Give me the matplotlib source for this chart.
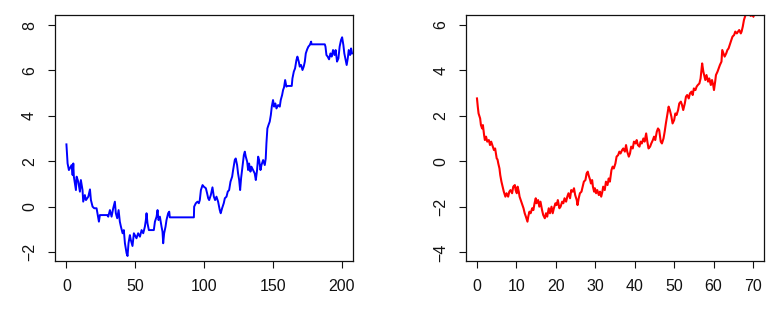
import numpy as np
import matplotlib.pyplot as plt

plt.rcParams['font.family'] = ['Liberation Sans', 'DejaVu Sans']

# left panel: path (time, value)
blue_t = [0, 0.85, 1.8, 3.75, 4.5, 5.0, 5.4, 6.9, 7.4, 8.6, 9.8, 10.5, 11.7, 12.2, 13.4, 14.2,
          15.9, 17.1, 17.8, 19.0, 20.2, 21.9, 23.6, 24.3, 29.6, 30.4, 31.6, 32.8, 34.0, 35.2,
          35.9, 36.9, 37.9, 38.8, 39.6, 40.8, 41.7, 42.5, 43.7, 44.4, 45.1, 46.1, 46.8, 48.0,
          49.0, 50.9, 52.1, 53.4, 54.6, 55.8, 57.0, 57.7, 58.2, 58.9, 59.9, 63.5, 64.3, 65.5,
          66.2, 66.9, 67.9, 69.1, 69.8, 70.3, 71.0, 72.0, 72.7, 73.9, 74.7, 75.1, 92.6, 92.8,
          94.0, 95.2, 96.2, 96.9, 97.7, 98.9, 99.8, 101.3, 102.2, 103.0, 103.7, 104.9, 106.1,
          107.1, 108.0, 109.0, 110.2, 111.4, 112.1, 113.1, 114.3, 115.1, 116.3, 117.2, 118.2,
          119.2, 120.4, 121.1, 122.3, 123.0, 124.0, 124.7, 125.5, 126.2, 126.9, 127.9, 128.9,
          129.6, 130.3, 131.3, 132.0, 132.7, 133.7, 134.4, 135.6, 136.8, 137.6, 138.5, 139.3,
          140.0, 141.0, 141.7, 142.9, 144.1, 144.8, 145.3, 146.0, 146.8, 147.7, 148.5, 149.2,
          150.1, 150.9, 151.8, 152.6, 153.8, 155.0, 155.7, 156.7, 157.4, 158.1, 158.9, 159.8,
          160.6, 163.7, 164.2, 165.2, 166.1, 167.1, 167.8, 168.8, 169.5, 170.5, 171.5, 172.4,
          173.2, 173.9, 174.9, 175.8, 176.8, 177.8, 178.0, 187.7, 188.2, 188.9, 189.8, 190.8,
          191.8, 192.7, 193.7, 194.7, 195.6, 196.6, 197.6, 198.5, 199.5, 200.3, 201.2, 201.9,
          202.9, 203.6, 204.4, 205.1, 206.1, 206.8, 207.5]
blue_v = [2.75, 1.91, 1.62, 1.84, 1.40, 1.91, 1.33, 0.74, 1.33, 1.11, 0.67, 1.18, 0.74, 0.23, 0.52, 0.30,
          0.45, 0.77, 0.30, 0.01, -0.06, -0.06, -0.65, -0.36, -0.36, -0.43, -0.14, -0.43, -0.06, 0.23,
          -0.28, -0.50, -0.14, -0.65, -0.87, -1.16, -1.02, -1.60, -2.04, -2.16, -1.60, -1.24, -1.46, -1.72,
          -1.16, -1.38, -1.16, -1.31, -1.02, -1.16, -0.87, -0.58, -0.28, -0.72, -1.02, -1.02, -0.65, -0.43,
          -0.14, -0.58, -0.43, -0.87, -1.09, -1.60, -1.16, -0.87, -0.58, -0.28, -0.21, -0.46, -0.46, 0.01,
          0.16, 0.23, 0.16, 0.30, 0.74, 0.96, 0.89, 0.82, 0.60, 0.38, 0.30, 0.52, 0.86,
          0.45, 0.30, 0.45, 0.23, -0.14, -0.28, -0.06, 0.16, 0.38, 0.45, 0.67, 0.74,
          1.11, 1.33, 1.62, 2.06, 2.13, 1.84, 1.47, 1.18, 0.74, 1.26, 1.77, 2.28,
          2.43, 2.21, 1.99, 1.62, 1.91, 1.55, 1.77, 1.62, 1.47, 1.18, 1.62, 2.21,
          2.06, 1.62, 1.84, 2.06, 1.84, 2.13, 2.79, 3.45, 3.60, 3.75, 4.04, 4.41,
          4.70, 4.41, 4.55, 4.33, 4.48, 4.41, 4.70, 4.92, 5.14, 5.26, 5.58, 5.29,
          5.32, 5.32, 5.65, 5.95, 6.09, 6.46, 6.61, 6.39, 6.17, 6.24, 6.02, 6.17,
          6.39, 6.75, 6.93, 7.05, 7.12, 7.27, 7.15, 7.15, 7.05, 6.68, 6.61, 6.49,
          6.75, 6.61, 6.90, 6.68, 6.90, 6.39, 6.53, 7.05, 7.34, 7.46, 7.12, 6.75,
          6.46, 6.24, 6.53, 6.90, 6.68, 6.97, 6.75]

# right panel
red_t = [0, 0.2, 0.4, 0.8, 1.0, 1.3, 1.5, 1.8, 2.0, 2.3, 2.6, 3.0, 3.3, 3.6, 4.0, 4.3, 4.6, 4.8, 5.0,
         5.2, 5.4, 5.7, 5.9, 6.2, 6.5, 6.8, 7.2, 7.5, 7.9, 8.2, 8.5, 8.9, 9.2, 9.6, 9.8, 10.1, 10.3,
         10.6, 10.8, 11.1, 11.4, 11.8, 12.1, 12.4, 12.8, 13.0, 13.3, 13.6, 14.0, 14.3, 14.6, 14.9,
         15.1, 15.5, 15.8, 16.1, 16.5, 16.8, 17.2, 17.5, 17.8, 18.2, 18.5, 18.9, 19.2, 19.5, 19.9,
         20.2, 20.5, 20.9, 21.2, 21.6, 21.9, 22.2, 22.6, 22.9, 23.2, 23.6, 23.9, 24.3, 24.6, 24.9,
         25.3, 25.5, 25.8, 26.1, 26.5, 26.8, 27.1, 27.5, 27.8, 28.1, 28.3, 28.7, 28.9, 29.2, 29.4,
         29.7, 29.9, 30.2, 30.5, 30.9, 31.2, 31.5, 31.8, 32.0, 32.4, 32.7, 33.1, 33.4, 33.7, 34.1,
         34.4, 34.7, 35.1, 35.4, 35.8, 36.1, 36.4, 36.8, 37.1, 37.5, 37.8, 38.1, 38.5, 38.8, 39.1,
         39.5, 39.8, 40.2, 40.5, 40.8, 41.2, 41.5, 41.8, 42.2, 42.5, 42.9, 43.2, 43.5, 43.9, 44.2,
         44.6, 44.9, 45.2, 45.6, 45.9, 46.2, 46.6, 46.9, 47.3, 47.6, 47.9, 48.3, 48.6, 48.9, 49.3,
         49.6, 50.0, 50.3, 50.6, 51.0, 51.3, 51.7, 52.0, 52.3, 52.7, 53.0, 53.3, 53.7, 54.0, 54.4,
         54.7, 55.0, 55.4, 55.7, 56.0, 56.4, 56.7, 57.0, 57.1, 57.4, 57.7, 57.9, 58.2, 58.6, 58.9,
         59.3, 59.6, 59.9, 60.1, 60.4, 60.6, 61.0, 61.3, 61.6, 62.0, 62.2, 62.5, 62.8, 63.2, 63.5,
         63.8, 64.2, 64.5, 64.8, 65.2, 65.5, 65.9, 66.2, 66.5, 66.9, 67.1, 67.4, 67.7, 68.1, 68.4,
         68.7, 69.1, 69.4, 69.7, 70.1]
red_v = [2.77, 2.41, 2.11, 1.89, 1.60, 1.45, 1.60, 1.16, 0.94, 1.09, 0.87, 0.94, 0.72, 0.87, 0.65, 0.50, 0.57, 0.35, 0.13,
         0.09, -0.09, -0.31, -0.60, -0.89, -1.11, -1.33, -1.55, -1.40, -1.55, -1.33, -1.26, -1.40, -1.11, -1.04, -1.26, -1.40, -1.11,
         -1.33, -1.55, -1.70, -1.84, -2.06, -2.28, -2.43, -2.65, -2.43, -2.21, -2.28, -2.06, -2.14, -1.84, -1.62,
         -1.84, -1.70, -1.99, -1.77, -2.14, -2.36, -2.50, -2.28, -2.43, -2.06, -2.28, -1.99, -2.28, -2.06, -1.84,
         -1.92, -1.70, -2.06, -1.99, -1.77, -1.84, -1.62, -1.77, -1.55, -1.40, -1.62, -1.26, -1.33, -1.18, -1.48,
         -1.70, -1.92, -1.62, -1.40, -1.33, -1.11, -0.89, -0.82, -0.53, -0.45, -0.60, -0.82, -0.97, -0.82, -1.11,
         -1.33, -1.18, -1.40, -1.26, -1.48, -1.33, -1.55, -1.33, -1.11, -1.26, -0.89, -1.04, -0.75, -0.89, -0.38,
         -0.23, -0.31, -0.09, 0.21, 0.28, 0.43, 0.35, 0.50, 0.57, 0.43, 0.72, 0.43, 0.21, 0.35, 0.65,
         0.57, 0.87, 0.79, 0.94, 0.72, 0.65, 0.87, 0.79, 1.01, 0.87, 1.23, 0.87, 0.57, 0.65, 0.79,
         0.94, 1.09, 0.94, 1.31, 1.45, 1.38, 0.87, 0.79, 1.01, 1.31, 1.67, 2.11, 2.41, 2.26, 1.97,
         1.67, 1.82, 2.11, 2.04, 2.26, 2.55, 2.63, 2.48, 2.26, 2.55, 2.85, 2.92, 2.77, 2.99, 3.07,
         2.92, 3.21, 3.14, 3.29, 3.36, 3.43, 3.65, 4.17, 4.31, 3.95, 3.73, 3.58, 3.80, 3.51, 3.65,
         3.36, 3.58, 3.36, 3.14, 3.51, 3.80, 3.95, 4.09, 4.24, 4.39, 4.90, 4.75, 4.61, 4.75, 4.90,
         4.97, 5.19, 5.34, 5.49, 5.56, 5.71, 5.63, 5.71, 5.78, 5.63, 5.71, 5.93, 6.22, 6.44, 6.51,
         6.45, 6.48, 6.40, 6.44, 6.37]

blue_xticks = [0, 50, 100, 150, 200]
blue_yticks = [-2, 0, 2, 4, 6, 8]
red_xticks = [0, 10, 20, 30, 40, 50, 60, 70]
red_yticks = [-4, -2, 0, 2, 4, 6]

W, H = 779, 313
fig = plt.figure(figsize=(W / 100, H / 100), dpi=100)
ax1 = fig.add_axes([55 / W, 1 - 261 / H, 298 / W, 246 / H])
ax2 = fig.add_axes([466.3 / W, 1 - 261 / H, 298 / W, 246 / H])


def r_style(ax, xticks, yticks):
    ax.set_xticks(xticks)
    ax.set_yticks(yticks)
    ax.tick_params(direction='out', length=5, width=0.8, labelsize=11.5,
                   colors='#111111', pad=8)
    for lab in ax.get_yticklabels():
        lab.set_rotation(90)
        lab.set_va('center')
    for sp in ax.spines.values():
        sp.set_linewidth(0.9)
        sp.set_color('#111111')


ax1.plot(blue_t, blue_v, color='#0000ff', lw=1.4)
ax1.set_xlim(-8.3, 208.2)
ax1.set_ylim(-2.38, 8.44)
r_style(ax1, blue_xticks, blue_yticks)

ax2.plot(red_t, red_v, color='#ff0000', lw=1.5)
ax2.set_xlim(-2.71, 72.86)
ax2.set_ylim(-4.38, 6.44)
r_style(ax2, red_xticks, red_yticks)

fig.savefig('out.png', dpi=100)
